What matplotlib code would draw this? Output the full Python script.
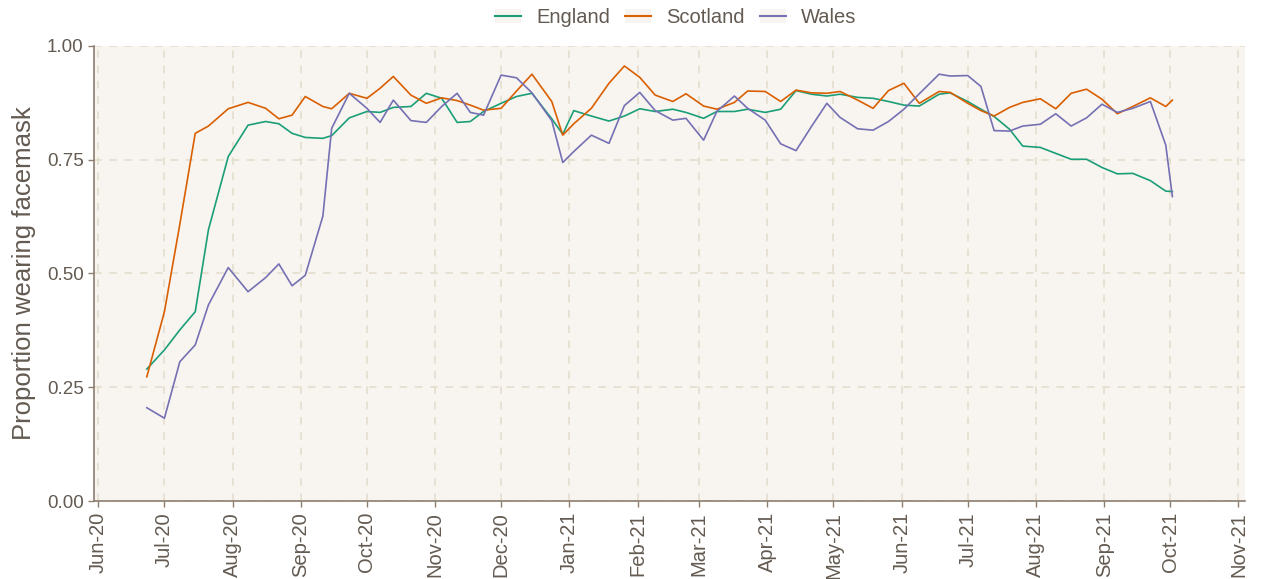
import pandas as pd
import matplotlib.pyplot as plt
import matplotlib.dates as mdates
from matplotlib.lines import Line2D
from matplotlib.patches import Patch

plt.rcParams['font.family'] = ['Liberation Sans', 'DejaVu Sans']

# survey dates
dates = [
    "2020-06-23", "2020-07-01", "2020-07-08", "2020-07-15", "2020-07-21", "2020-07-30",
    "2020-08-08", "2020-08-16", "2020-08-22", "2020-08-28", "2020-09-03", "2020-09-11",
    "2020-09-15", "2020-09-23", "2020-10-01", "2020-10-07", "2020-10-13", "2020-10-21",
    "2020-10-28", "2020-11-04", "2020-11-11", "2020-11-17", "2020-11-23", "2020-12-01",
    "2020-12-08", "2020-12-15", "2020-12-24", "2020-12-29", "2021-01-03", "2021-01-11",
    "2021-01-19", "2021-01-26", "2021-02-02", "2021-02-09", "2021-02-17", "2021-02-23",
    "2021-03-03", "2021-03-09", "2021-03-17", "2021-03-23", "2021-03-31", "2021-04-07",
    "2021-04-14", "2021-04-21", "2021-04-28", "2021-05-04", "2021-05-12", "2021-05-19",
    "2021-05-26", "2021-06-02", "2021-06-09", "2021-06-18", "2021-06-23", "2021-07-01",
    "2021-07-07", "2021-07-13", "2021-07-20", "2021-07-26", "2021-08-03", "2021-08-10",
    "2021-08-17", "2021-08-24", "2021-08-31", "2021-09-07", "2021-09-14", "2021-09-22",
    "2021-09-29", "2021-10-02",
]

england = [
    0.290, 0.332, 0.376, 0.416, 0.596, 0.757, 0.826, 0.834, 0.829, 0.808, 0.799, 0.797,
    0.803, 0.842, 0.856, 0.854, 0.865, 0.867, 0.896, 0.885, 0.832, 0.834, 0.856, 0.874,
    0.889, 0.896, 0.840, 0.806, 0.858, 0.846, 0.835, 0.846, 0.862, 0.856, 0.861, 0.854,
    0.841, 0.856, 0.856, 0.861, 0.854, 0.861, 0.902, 0.894, 0.890, 0.894, 0.887, 0.885,
    0.878, 0.870, 0.868, 0.894, 0.897, 0.878, 0.861, 0.845, 0.817, 0.780, 0.777, 0.764,
    0.751, 0.751, 0.733, 0.719, 0.720, 0.704, 0.681, 0.680,
]

scotland = [
    0.273, 0.416, 0.608, 0.808, 0.824, 0.862, 0.876, 0.863, 0.840, 0.848, 0.889, 0.867,
    0.862, 0.896, 0.885, 0.907, 0.933, 0.892, 0.874, 0.886, 0.880, 0.870, 0.859, 0.863,
    0.901, 0.938, 0.878, 0.804, 0.829, 0.863, 0.918, 0.956, 0.931, 0.892, 0.878, 0.895,
    0.868, 0.861, 0.876, 0.901, 0.900, 0.878, 0.903, 0.897, 0.896, 0.900, 0.881, 0.863,
    0.902, 0.918, 0.874, 0.900, 0.898, 0.874, 0.858, 0.846, 0.865, 0.876, 0.884, 0.862,
    0.896, 0.905, 0.883, 0.851, 0.867, 0.886, 0.867, 0.881,
]

wales = [
    0.205, 0.182, 0.306, 0.343, 0.431, 0.513, 0.460, 0.491, 0.521, 0.473, 0.496, 0.626,
    0.819, 0.896, 0.863, 0.832, 0.881, 0.836, 0.832, 0.867, 0.896, 0.854, 0.848, 0.936,
    0.930, 0.897, 0.836, 0.744, 0.768, 0.804, 0.786, 0.869, 0.898, 0.858, 0.837, 0.841,
    0.793, 0.856, 0.890, 0.863, 0.837, 0.785, 0.770, 0.823, 0.874, 0.843, 0.818, 0.815,
    0.834, 0.861, 0.895, 0.938, 0.934, 0.935, 0.911, 0.814, 0.813, 0.824, 0.828, 0.851,
    0.824, 0.842, 0.872, 0.854, 0.863, 0.878, 0.782, 0.669,
]

countries = ["England", "Scotland", "Wales"]
colours = {"England": "#1b9e77", "Scotland": "#d95f02", "Wales": "#7570b3"}

x = pd.to_datetime(dates)
series = {"England": england, "Scotland": scotland, "Wales": wales}

panel = "#F8F5F0"
text_col = "#635A51"
axis_col = "#8C7E70"
grid_col = "#E2DCCB"

fig = plt.figure(figsize=(12.65, 5.79), dpi=100)
ax = fig.add_axes([0.0743, 0.1347, 0.9099, 0.7859])
ax.set_facecolor(panel)

for c in countries:
    ax.plot(x, series[c], color=colours[c], linewidth=1.2)

ax.set_xlim(pd.Timestamp("2020-05-30"), pd.Timestamp("2021-11-04"))
ax.set_ylim(0, 1)
ax.set_yticks([0, 0.25, 0.5, 0.75, 1.0])
ax.yaxis.set_major_formatter(plt.FormatStrFormatter("%.2f"))
ax.xaxis.set_major_locator(mdates.MonthLocator())
ax.xaxis.set_major_formatter(mdates.DateFormatter("%b-%y"))
plt.setp(ax.get_xticklabels(), rotation=90)

ax.grid(True, color=grid_col, linestyle=(0, (5, 5)), linewidth=1.1)
ax.set_axisbelow(True)

for s in ["top", "right"]:
    ax.spines[s].set_visible(False)
for s in ["left", "bottom"]:
    ax.spines[s].set_color(axis_col)
    ax.spines[s].set_linewidth(1.2)

ax.tick_params(colors=axis_col, labelcolor=text_col, length=4, width=1)
ax.tick_params(axis="y", labelsize=13.5)
ax.tick_params(axis="x", labelsize=14.5, pad=4)
ax.set_ylabel("Proportion wearing facemask", fontsize=18.5, color=text_col, labelpad=8)

handles = [(Patch(facecolor=panel, edgecolor="none"),
            Line2D([], [], color=colours[c], linewidth=1.5)) for c in countries]
fig.legend(handles, countries, loc="upper center", bbox_to_anchor=(0.534, 1.018), ncol=3,
           frameon=False, fontsize=14.5, labelcolor=text_col, handlelength=1.3,
           handletextpad=0.75, columnspacing=0.75)

plt.savefig("out.png", dpi=100)
